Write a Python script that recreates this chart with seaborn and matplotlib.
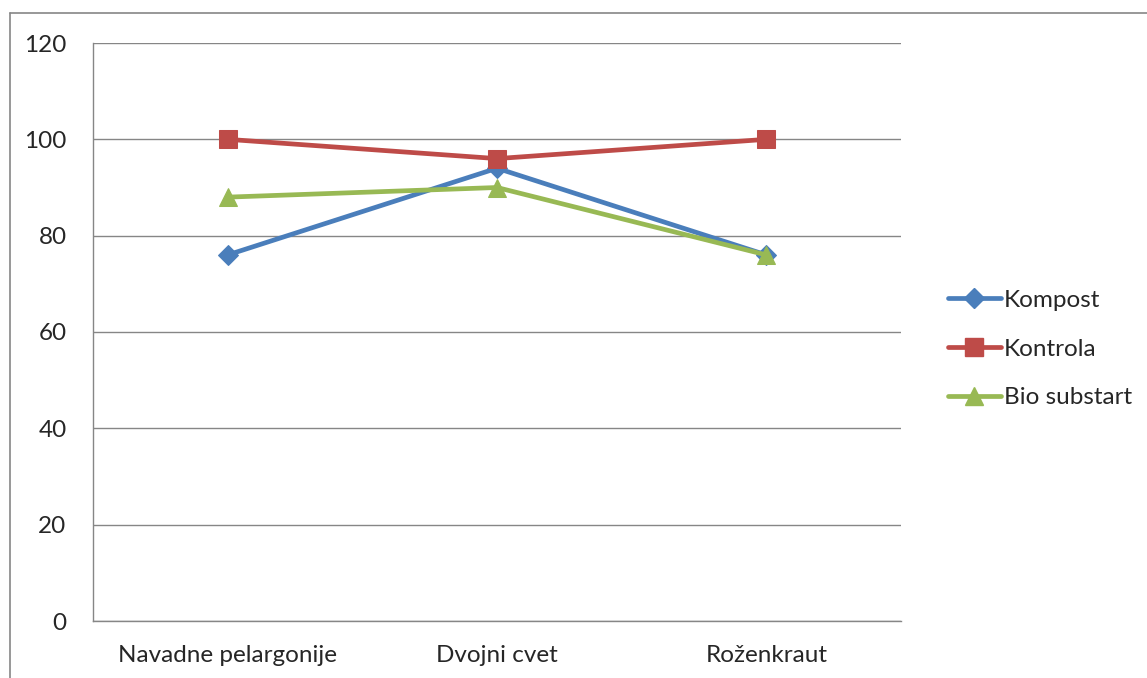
import matplotlib
matplotlib.use("Agg")
import matplotlib.pyplot as plt
from matplotlib.lines import Line2D
import seaborn as sns
import pandas as pd

categories = ["Navadne pelargonije", "Dvojni cvet", "Roženkraut"]
kompost = [76, 94, 76]
kontrola = [100, 96, 100]
bio_substart = [88, 90, 76]
series_names = ["Kompost", "Kontrola", "Bio substart"]
y_ticks = [0, 20, 40, 60, 80, 100, 120]

rows = []
for name, vals in zip(series_names, [kompost, kontrola, bio_substart]):
    for i, v in enumerate(vals):
        rows.append({"pos": i, "value": v, "series": name})
df = pd.DataFrame(rows)

sns.set_style("white")
plt.rcParams["font.family"] = ["Lato", "DejaVu Sans"]

palette = {"Kompost": "#4A7EBB", "Kontrola": "#BE4B48", "Bio substart": "#98B954"}
markers = {"Kompost": "D", "Kontrola": "s", "Bio substart": "^"}
msizes = {"Kompost": 10, "Kontrola": 13, "Bio substart": 13}

fig = plt.figure(figsize=(11.47, 6.78), dpi=100)
ax = fig.add_axes([93 / 1147, 1 - 621 / 678, (901 - 93) / 1147, (621 - 43) / 678])

for name in series_names:
    sub = df[df["series"] == name]
    sns.lineplot(data=sub, x="pos", y="value", ax=ax, color=palette[name],
                 marker=markers[name], markersize=msizes[name],
                 markeredgecolor=palette[name], linewidth=3.4, label=name,
                 legend=False)

grid_c = "#868686"
fs = 17.5
ax.set_xlim(-0.5, 2.5)
ax.set_ylim(0, 120)
ax.set_yticks(y_ticks)
ax.set_yticklabels([str(t) for t in y_ticks], fontsize=fs)
ax.yaxis.grid(True, color=grid_c, linewidth=1.0)
ax.set_axisbelow(True)
ax.set_xticks(range(len(categories)))
ax.set_xticklabels(categories, fontsize=fs)
ax.set_xticks([-0.5, 0.5, 1.5, 2.5], minor=True)
ax.tick_params(axis="x", which="major", length=0, pad=17)
ax.tick_params(axis="x", which="minor", length=7, color=grid_c, direction="out", width=1)
ax.tick_params(axis="y", length=7, color=grid_c, direction="out", width=1, pad=12)
ax.set_xlabel("")
ax.set_ylabel("")
for s in ["top", "right"]:
    ax.spines[s].set_visible(False)
for s in ["left", "bottom"]:
    ax.spines[s].set_color(grid_c)
    ax.spines[s].set_linewidth(1.0)

handles = [Line2D([0], [0], color=palette[n], marker=markers[n], markersize=msizes[n],
                  markeredgecolor=palette[n], linewidth=3.4) for n in series_names]
fig.legend(handles, series_names, loc="center left", bbox_to_anchor=(938 / 1147, 1 - 349 / 678),
           frameon=False, fontsize=fs, handlelength=2.2, handletextpad=0.1,
           labelspacing=1.15, borderaxespad=0)

# outer chart frame (left and top edges)
fig.add_artist(Line2D([10 / 1147, 10 / 1147], [0, 1 - 13 / 678], transform=fig.transFigure,
                      color=grid_c, linewidth=1.2))
fig.add_artist(Line2D([10 / 1147, 1], [1 - 13 / 678, 1 - 13 / 678], transform=fig.transFigure,
                      color=grid_c, linewidth=1.2))

fig.savefig("out.png", dpi=100)
